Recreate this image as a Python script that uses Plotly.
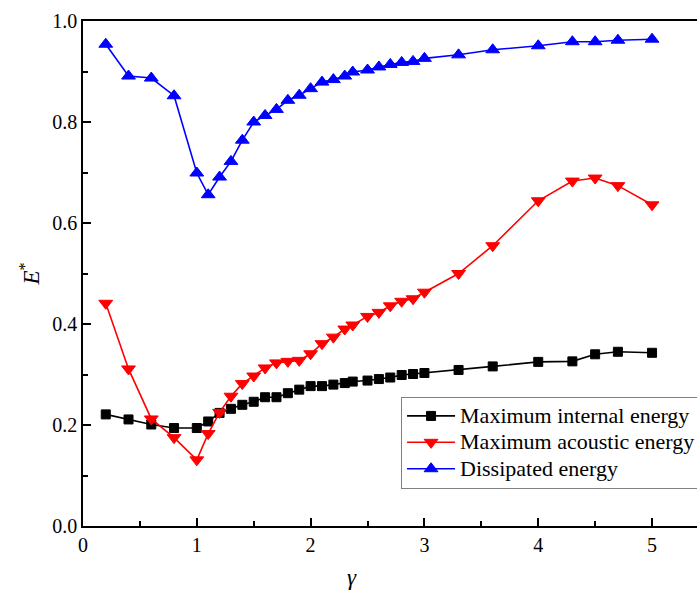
import plotly.graph_objects as go

# ---- data ----
gamma = [0.2, 0.4, 0.6, 0.8, 1.0, 1.1, 1.2, 1.3, 1.4, 1.5, 1.6, 1.7, 1.8, 1.9,
         2.0, 2.1, 2.2, 2.3, 2.37, 2.5, 2.6, 2.7, 2.8, 2.9, 3.0,
         3.3, 3.6, 4.0, 4.3, 4.5, 4.7, 5.0]

internal_energy = [0.221, 0.211, 0.201, 0.194, 0.194, 0.207, 0.224, 0.232, 0.240, 0.246,
                   0.255, 0.255, 0.263, 0.270, 0.277, 0.277, 0.280, 0.283, 0.286, 0.288,
                   0.291, 0.294, 0.299, 0.301, 0.303, 0.309, 0.316, 0.325, 0.326, 0.340,
                   0.345, 0.343]

acoustic_energy = [0.441, 0.311, 0.212, 0.175, 0.131, 0.183, 0.225, 0.257, 0.282, 0.297,
                   0.313, 0.323, 0.326, 0.328, 0.341, 0.361, 0.374, 0.390, 0.398, 0.415,
                   0.423, 0.436, 0.445, 0.450, 0.463, 0.500, 0.555, 0.644, 0.683, 0.689,
                   0.674, 0.636]

dissipated_energy = [0.954, 0.891, 0.887, 0.852, 0.699, 0.656, 0.691, 0.722, 0.764, 0.800,
                     0.813, 0.825, 0.843, 0.853, 0.866, 0.879, 0.884, 0.891, 0.899, 0.903,
                     0.909, 0.914, 0.918, 0.920, 0.926, 0.933, 0.943, 0.951, 0.959, 0.959,
                     0.962, 0.964]

series_names = ["Maximum internal energy", "Maximum acoustic energy", "Dissipated energy"]
x_ticks = [0, 1, 2, 3, 4, 5]
y_ticks = [0.0, 0.2, 0.4, 0.6, 0.8, 1.0]

FONT = "Liberation Serif"

fig = go.Figure()
styles = [
    (internal_energy, "#000000", "square", 9),
    (acoustic_energy, "#FF0000", "triangle-down", 12),
    (dissipated_energy, "#0000FF", "triangle-up", 12),
]
for name, (vals, col, sym, sz) in zip(series_names, styles):
    fig.add_trace(go.Scatter(
        x=gamma, y=vals, mode="lines+markers",
        name="<span style='font-size:22px'>%s</span>" % name,
        line=dict(color=col, width=1.6),
        marker=dict(symbol=sym, size=sz, color=col, line=dict(color=col, width=1)),
    ))

fig.update_layout(
    width=697, height=593,
    margin=dict(l=83, r=0, t=21, b=67, autoexpand=False),
    paper_bgcolor="white", plot_bgcolor="white",
    font=dict(family=FONT, size=20, color="black"),
    showlegend=True,
    legend=dict(
        x=0.518, y=0.256, xanchor="left", yanchor="top",
        bordercolor="#808080", borderwidth=1, bgcolor="white",
        font=dict(family=FONT, size=18, color="black"),
        tracegroupgap=0, itemwidth=48,
    ),
    xaxis=dict(
        range=[0, 5.395], tickvals=x_ticks, ticktext=[str(v) for v in x_ticks],
        showline=True, linecolor="black", linewidth=1.5, mirror=True,
        ticks="inside", ticklen=8, tickwidth=1.5, tickcolor="black",
        minor=dict(dtick=0.5, ticks="inside", ticklen=5, tickwidth=1.5, tickcolor="black"),
        showgrid=False, zeroline=False, automargin=False,
        tickfont=dict(family=FONT, size=20),
    ),
    yaxis=dict(
        range=[0, 1.0], tickvals=y_ticks, ticktext=["%.1f" % v for v in y_ticks],
        showline=True, linecolor="black", linewidth=1.5, mirror=False,
        ticks="inside", ticklen=8, tickwidth=1.5, tickcolor="black",
        minor=dict(dtick=0.1, ticks="inside", ticklen=5, tickwidth=1.5, tickcolor="black"),
        showgrid=False, zeroline=False, automargin=False,
        tickfont=dict(family=FONT, size=20),
        title=dict(text="<i>E</i><sup>*</sup>", font=dict(family=FONT, size=23), standoff=6),
    ),
)

fig.add_annotation(
    text="<i>γ</i>", xref="paper", yref="paper", x=0.438, y=-0.102,
    xanchor="center", yanchor="middle", showarrow=False,
    font=dict(family=FONT, size=23, color="black"),
)

fig.write_html(
    "out.html",
    config={"displayModeBar": False},
    post_script="document.body.style.margin='0';document.body.style.overflow='hidden';",
)
